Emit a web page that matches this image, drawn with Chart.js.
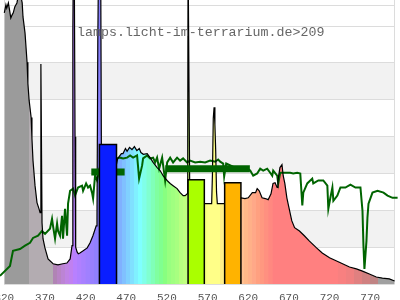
<!DOCTYPE html>
<html><head><meta charset="utf-8">
<script src="https://cdn.jsdelivr.net/npm/chart.js@4.4.1/dist/chart.umd.min.js"></script>
<style>html,body{margin:0;padding:0;background:#fff;overflow:hidden}#wrap{position:relative;width:400px;height:300px;overflow:hidden}</style>
</head><body><div id="wrap"><canvas id="c" width="400" height="300"></canvas></div>
<script>
const titleText = 'lamps.licht-im-terrarium.de>209';
const xTickValues = [320,370,420,470,520,570,620,670,720,770];
const xMin = 320, xMax = 800;
const yGridValues = [0,10,20,30,40,50,60,70,75.7];
const yMax = 77.1;

// lamp spectrum (nm, relative value)
const specNm = [320,322,323,325,327,328,329.5,331,333,335.5,337,340.5,342,343,345.5,348,349,350.5,353,354,355.3,357.8,360.2,362.7,364,365,366.4,367.6,370,373.8,380,386,392,397,401,403.3,404.3,405,406,407,407.8,409.5,411,413,417,422,425.5,429,433,434,435,436,437.5,438.5,439.5,442,450,458,459.5,464,466,469,471,474,477,480,483,486,488,491,495.7,499.3,503,508,511.6,515.3,520.2,524,527.6,532.5,536.2,540,542.4,544.9,545.6,546,547,548,550,565,567,575,576,577,578,579,580,581,582,590,600,611.5,616,620,625,629,631,633.5,637,641,644.5,648,650.5,653,655.5,656.5,659,661.5,663,665,667.5,669,673.5,677,683,689,695,704,711,720,728,736,744.5,753,760.5,769,777.5,785,793.5,800];
const specVal = [73.6,75.8,74.9,76.3,73.6,72.2,73.0,73.6,75.3,76.3,78,78,76.3,72.5,68.1,60.2,54.5,49.9,45.2,39.5,33.5,26.7,22.1,20.4,19.4,59.7,16.6,12.3,9.8,6.8,5.5,5.2,5.5,5.7,6.8,10.4,69,90,90,40,10,8.7,8.2,8.4,9.0,9.8,11.2,13.1,15.8,18,66,90,90,90,30,30,31,32.5,34.1,35.4,35.4,36.8,36.0,37.1,36.5,37.3,36.2,36.8,35.7,35.2,35.4,34.3,33.0,31.6,30.8,29.4,28.1,27.3,26.7,25.9,24.8,24.0,24.0,24.5,40,90,90,27,22,22,21.8,21.8,30,45,48,43.3,36,25,21.8,21.8,23,23.4,23.2,23.4,24.8,24.8,25.9,25.3,23.4,23.2,22.9,24.5,27.3,27.5,26.2,28.1,31.6,32.4,29.4,27.3,23.4,21.8,17.2,15.3,14.4,13.1,11.7,9.8,8.4,7.1,6.3,5.5,4.6,4.1,3.5,2.7,1.9,1.6,1.4,0.8];

// daylight reference spectrum (nm, relative value)
const sunNm = [314.7,327,330.7,339.3,345.5,351.6,355.3,361.5,366.4,370.1,376.2,378.7,379.9,382.4,384.9,386.1,388.6,391,392.2,394.7,397.2,398.4,400.9,404.6,407,410.7,415.6,416.9,420.6,423,425.5,427.9,429.2,431.6,434.1,437.8,445,455,458.8,462.4,466.1,471,474.7,478.4,483.3,485.8,489.5,490.7,495.6,499.3,503,505.5,507.9,510.4,514.1,517.8,520.3,524,527.6,532.5,536.2,539.9,544.8,548.5,554.7,560.8,567,573.1,579.3,583,585.5,589.2,590.4,592.9,603.9,616.2,622.4,626.1,631,634.7,638.4,643.3,647,649.5,650.7,655.6,656.9,659.3,663,667.9,671.6,675.3,680.3,684,686.5,687.7,692.6,698.7,700,706.2,712.3,717.3,718.5,721,723.5,724.7,729.6,733.4,739.5,745.7,751.8,758,760.5,761.7,762.9,765.4,766.6,767.9,772.8,779,786.4,791.3,797.5,803.7,807.4];
const sunVal = [2.2,4.9,9.0,9.5,10.4,11.2,12.5,13.1,14.4,13.6,15.0,17.7,15.8,12.3,16.4,14.4,13.1,18.5,12.3,20.4,13.1,21.8,25.3,25.9,24.0,26.2,26.7,25.3,27.3,26.2,26.7,24.8,23.2,29.4,28.1,32,33,33,34.1,34.3,34.1,34.3,34.9,34.3,34.9,28.6,32.2,34.1,34.9,34.1,34.3,33.0,34.3,31.3,34.3,28.1,33.0,34.3,33.0,34.3,33.5,34.1,33.0,33.5,33.0,33.2,33.0,33.5,33.2,33.8,33.2,32.7,29.2,32.7,31.6,31.6,30.8,29.4,30.0,31.3,30.8,31.3,30.2,29.4,30.8,29.4,27.3,30.2,30.2,30.2,30.2,30.0,30.2,30.0,21.3,24.8,27.3,28.6,27.3,28.1,28.1,26.7,20.4,23.4,26.2,22.6,24.0,26.2,26.2,27.0,26.2,26.2,19.9,10.4,4.1,11.7,18.0,21.8,24.8,25.3,24.8,24.0,23.4,23.4,22.6];

// colour bands (bars)
const bandStart = [437,546,591];
const bandEnd   = [458,566,611];
const bandValue = [37.9,28.3,27.5];
const bandColor = ['#0a1eff','#aaff00','#ffb300'];

// daylight band markers
const markStart = [427,518];
const markEnd   = [468,622];
const markValue = [30.4,31.3];

// fill colour per wavelength (style)
const stopNm = [320,350,380,385,390,395,400,405,410,415,420,425,430,435,440,445,450,455,460,465,470,475,480,485,490,495,500,505,510,515,520,525,530,535,540,545,550,555,560,565,570,585,590,595,600,605,610,615,620,625,630,635,640,645,650,730,740,750,760,770,780];
const stopColor = ['#9b9b9b','#b3acb1','#b084b4','#b884c4','#bc84d4','#c084e4','#c080f0','#b880ff','#b080ff','#a880ff','#a080ff','#9880ff','#9080ff','#8880ff','#8088ff','#8090ff','#8098ff','#80a0ff','#80b0ff','#80c0ff','#80d0ff','#80e0ff','#80f0ff','#80ffff','#80ffe8','#80ffd0','#80ffb8','#80ffa0','#80ff90','#88ff80','#98ff80','#a0ff80','#a8ff80','#b8ff80','#c0ff80','#d0ff80','#e0ff80','#e8ff80','#f0ff80','#f8ff80','#ffff88','#fff088','#ffe088','#ffd888','#ffd088','#ffc888','#ffc090','#ffb888','#ffb088','#ffa888','#ffa080','#ff9880','#ff9080','#ff8880','#ff8080','#f88080','#f08080','#e08080','#d08080','#c08484','#a0a0a0'];

const pts = (xs, ys) => xs.map((x, i) => ({x, y: ys[i]}));

function spectrumFill(context) {
  const chart = context.chart;
  const sx = chart.scales.x;
  if (!chart.chartArea || !sx) return '#cccccc';
  const x0 = sx.getPixelForValue(xMin), x1 = sx.getPixelForValue(xMax);
  const g = chart.ctx.createLinearGradient(x0, 0, x1, 0);
  const pos = nm => Math.min(1, Math.max(0, (sx.getPixelForValue(nm) - x0) / (x1 - x0)));
  for (let i = 0; i < stopNm.length; i++) {
    const a = pos(stopNm[i]);
    const b = i + 1 < stopNm.length ? pos(stopNm[i + 1]) : 1;
    g.addColorStop(a, stopColor[i]);
    g.addColorStop(Math.max(a, b - 0.0005), stopColor[i]);
  }
  return g;
}

const datasets = [];
for (let i = 0; i < bandStart.length; i++) {
  datasets.push({
    data: [{x: bandStart[i], y: 0}, {x: bandStart[i], y: bandValue[i]}, {x: bandEnd[i], y: bandValue[i]}, {x: bandEnd[i], y: 0}],
    borderColor: '#000', borderWidth: 1.5, backgroundColor: bandColor[i], fill: 'origin',
    pointRadius: 0, tension: 0, order: 0
  });
}
for (let i = 0; i < markStart.length; i++) {
  datasets.push({
    data: [{x: markStart[i], y: markValue[i]}, {x: markEnd[i], y: markValue[i]}],
    borderColor: '#006400', borderWidth: 7, borderCapStyle: 'butt', fill: false,
    pointRadius: 0, order: 1
  });
}
datasets.push({ data: pts(specNm, specVal), borderColor: '#000', borderWidth: 1.2, fill: false, pointRadius: 0, tension: 0, clip: false, order: 2 });
datasets.push({ data: pts(sunNm, sunVal), borderColor: '#006400', borderWidth: 2, fill: false, pointRadius: 0, tension: 0, clip: false, order: 3 });
datasets.push({ data: pts(specNm, specVal), borderWidth: 0, borderColor: 'rgba(0,0,0,0)', backgroundColor: spectrumFill, fill: 'origin', pointRadius: 0, tension: 0, order: 4 });

const bandsPlugin = {
  id: 'bands',
  beforeDraw(chart) {
    const {ctx, chartArea, scales: {y}} = chart;
    ctx.save();
    ctx.fillStyle = '#f2f2f2';
    for (let k = 1; k + 1 < yGridValues.length - 1; k += 2) {
      const top = y.getPixelForValue(yGridValues[k + 1]);
      const bot = y.getPixelForValue(yGridValues[k]);
      ctx.fillRect(chartArea.left, top, chartArea.right - chartArea.left, bot - top);
    }
    ctx.restore();
  }
};
const titlePlugin = {
  id: 'insideTitle',
  afterDraw(chart) {
    const ctx = chart.ctx;
    ctx.save();
    ctx.font = '13.3px "Liberation Mono"';
    ctx.fillStyle = '#666';
    ctx.textBaseline = 'alphabetic';
    ctx.textAlign = 'left';
    ctx.fillText(titleText, 77, 36);
    ctx.restore();
  }
};

new Chart(document.getElementById('c'), {
  type: 'line',
  data: { datasets },
  plugins: [bandsPlugin, titlePlugin],
  options: {
    responsive: false, animation: false, devicePixelRatio: 1,
    layout: { padding: { top: 0, left: 4.3, right: 5.4, bottom: -11.2 } },
    plugins: { legend: { display: false }, tooltip: { enabled: false } },
    elements: { line: { borderJoinStyle: 'miter' } },
    scales: {
      x: {
        type: 'linear', min: xMin, max: xMax,
        afterBuildTicks: s => { s.ticks = xTickValues.concat([xMax]).map(v => ({value: v})); },
        afterFit: s => { s.paddingLeft = 0; s.paddingRight = 0; },
        ticks: { autoSkip: false, maxRotation: 0, padding: 7, color: '#555',
          font: { family: 'Liberation Mono', size: 11 },
          callback: v => xTickValues.includes(v) ? String(v) : '' },
        grid: { drawTicks: false, lineWidth: 1,
          color: c => (c.tick && (c.tick.value === xMin || c.tick.value === xMax)) ? '#dcdcdc' : 'rgba(0,0,0,0)' },
        border: { display: false }
      },
      y: {
        min: 0, max: yMax,
        afterBuildTicks: s => { s.ticks = yGridValues.map(v => ({value: v})); },
        ticks: { display: false },
        grid: { drawTicks: false, color: '#dcdcdc', lineWidth: 1 },
        border: { display: false }
      }
    }
  }
});
</script></body></html>
